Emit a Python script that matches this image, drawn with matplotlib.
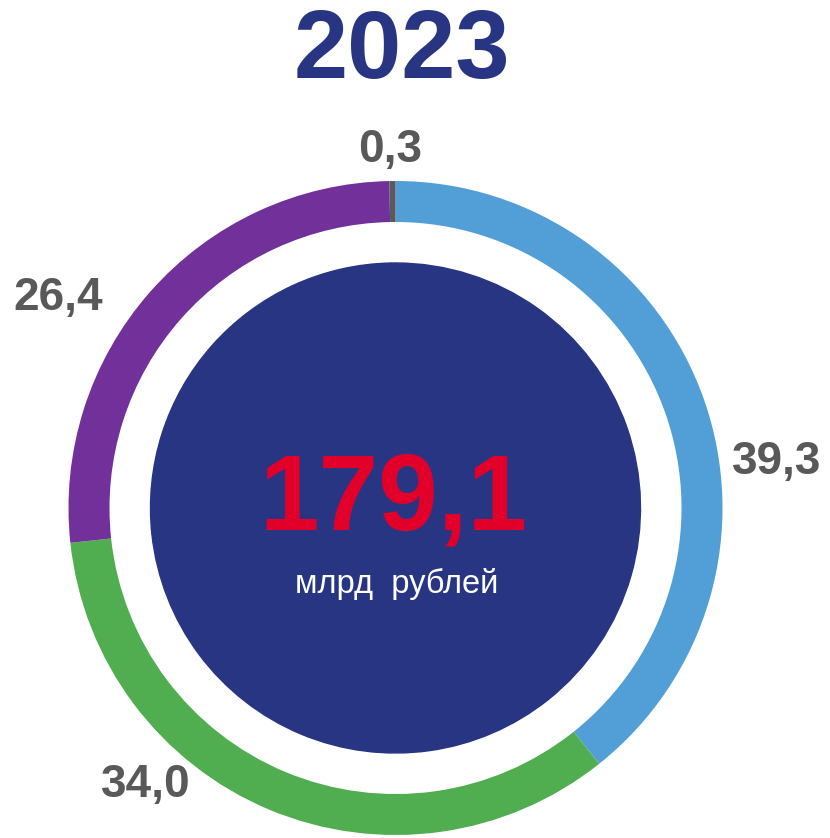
"""
Donut chart: structure of 2023 total, billion rubles
"""

import matplotlib.pyplot as plt

plt.rcParams["font.family"] = ["Liberation Sans", "DejaVu Sans"]

YEAR = "2023"
TOTAL_LABEL = "179,1"
UNIT_LABEL = "млрд  рублей"

# share of each part, clockwise from the top
shares = [39.3, 34.0, 26.4, 0.3]
share_labels = ["39,3", "34,0", "26,4", "0,3"]
colors = ["#529fd7", "#50ae50", "#72309a", "#5a5a5a"]

# where the value labels sit (pixels, origin at bottom-left)
label_pos = [(777, 376), (146, 53), (58, 540), (390, 688)]

NAVY = "#283583"
RED = "#e2002b"
GREY = "#595959"

W, H = 830, 838
CX, CY = 395.5, 330


def plot_donut():
    """draw the ring, the inner disc and the texts"""
    fig = plt.figure(figsize=(W / 100, H / 100), dpi=100)
    ax = fig.add_axes([0, 0, 1, 1])

    ax.pie(
        shares,
        colors=colors,
        startangle=90,
        counterclock=False,
        radius=327,
        center=(CX, CY),
        wedgeprops={"width": 41, "linewidth": 0},
        frame=True,
    )
    # inner disc: same split, all navy, seams hidden
    ax.pie(
        shares,
        colors=[NAVY] * len(shares),
        startangle=90,
        counterclock=False,
        radius=245,
        center=(CX, CY),
        wedgeprops={"linewidth": 1.0, "edgecolor": NAVY},
        frame=True,
    )
    ax.set_xlim(0, W)
    ax.set_ylim(0, H)
    ax.set_aspect("equal")
    ax.axis("off")

    for text, (x, y) in zip(share_labels, label_pos):
        ax.text(x, y, text, ha="center", va="center", fontsize=33,
                fontweight="bold", color=GREY)

    ax.text(402, 785, YEAR, ha="center", va="center", fontsize=70,
            fontweight="bold", color=NAVY)
    ax.text(CX - 2, 336, TOTAL_LABEL, ha="center", va="center", fontsize=77,
            fontweight="bold", color=RED)
    ax.text(CX + 1, 254, UNIT_LABEL, ha="center", va="center", fontsize=23.5,
            color="white")

    fig.savefig("out.png", dpi=100, facecolor="white")


if __name__ == "__main__":
    plot_donut()
